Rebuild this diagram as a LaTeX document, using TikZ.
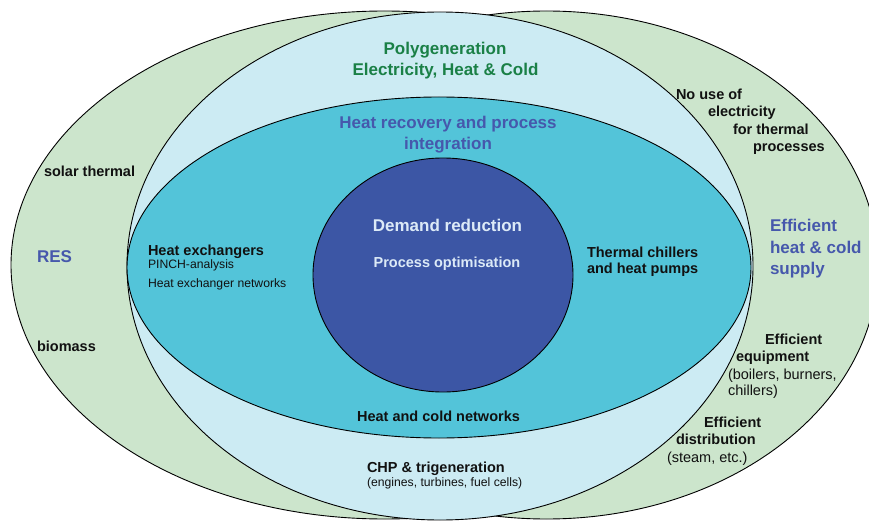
\documentclass[tikz,border=0pt]{standalone}
\usepackage{fontspec}
\setmainfont{Liberation Sans}
\definecolor{resgreen}{HTML}{CCE5CC}
\definecolor{polyblue}{HTML}{CCEBF3}
\definecolor{hrcyan}{HTML}{53C4D9}
\definecolor{drblue}{HTML}{3C56A5}
\definecolor{polytext}{HTML}{1A8046}
\definecolor{titleblue}{HTML}{4658AC}
\definecolor{drtext}{HTML}{DCEAF7}
\definecolor{labelblack}{HTML}{111111}
\begin{document}
\begin{tikzpicture}[x=1pt,y=-1pt,
  ring/.style={draw=black, line width=0.9pt},
  bigtxt/.style={font=\fontsize{17}{20}\selectfont\bfseries, inner sep=0pt, outer sep=0pt},
  lbl/.style={font=\fontsize{14.5}{17}\selectfont\bfseries, text=labelblack, inner sep=0pt, outer sep=0pt},
  reglbl/.style={font=\fontsize{14.5}{17}\selectfont, text=labelblack, inner sep=0pt, outer sep=0pt},
  smalllbl/.style={font=\fontsize{12.2}{14}\selectfont, text=labelblack, inner sep=0pt, outer sep=0pt}]
\useasboundingbox (0,0) rectangle (869,521);
\clip (0,0) rectangle (869,521);
% rings
\path[ring, fill=resgreen] (384.5,265) ellipse [x radius=373.5pt, y radius=254pt];
\path[ring, fill=resgreen] (546.5,265) ellipse [x radius=331.5pt, y radius=254pt];
\path[ring, fill=polyblue] (440,266) ellipse [x radius=313pt, y radius=254pt];
\path[ring, fill=hrcyan] (439,267.5) ellipse [x radius=312pt, y radius=170.5pt];
\path[ring, fill=drblue] (443,275) ellipse [x radius=130pt, y radius=117pt];
% polygeneration
\node[bigtxt, text=polytext, anchor=base] (poly1) at (445,55) {Polygeneration};
\node[bigtxt, text=polytext, anchor=base] (poly2) at (445.5,76) {Electricity, Heat \& Cold};
% heat recovery
\node[bigtxt, text=titleblue, anchor=base] (hr1) at (448,129) {Heat recovery and process};
\node[bigtxt, text=titleblue, anchor=base] (hr2) at (448,150) {integration};
% demand reduction
\node[bigtxt, text=drtext, anchor=base] (dr) at (447.5,232) {Demand reduction};
\node[lbl, text=drtext, anchor=base] (po) at (447,267) {Process optimisation};
% heat exchangers
\node[lbl, anchor=base west] (hx) at (148,255) {Heat exchangers};
\node[smalllbl, anchor=base west] (pinch) at (148,268) {PINCH-analysis};
\node[smalllbl, anchor=base west] (hxn) at (148,287) {Heat exchanger networks};
% thermal chillers
\node[lbl, anchor=base west] (tc1) at (587,257) {Thermal chillers};
\node[lbl, anchor=base west] (tc2) at (587,273) {and heat pumps};
% networks
\node[lbl, anchor=base] (hcn) at (438.5,421) {Heat and cold networks};
\node[lbl, anchor=base west] (chp) at (367,472) {CHP \& trigeneration};
\node[smalllbl, anchor=base west] (chpsub) at (367,486) {(engines, turbines, fuel cells)};
% RES
\node[lbl, anchor=base west] (solar) at (44,177) {solar thermal};
\node[bigtxt, text=titleblue, anchor=base west] (res) at (37,262) {RES};
\node[lbl, anchor=base west] (bio) at (37,351) {biomass};
% no use of electricity
\node[lbl, anchor=base west] (nouse1) at (676,100) {No use of};
\node[lbl, anchor=base west] (nouse2) at (708,117) {electricity};
\node[lbl, anchor=base west] (nouse3) at (733,135) {for thermal};
\node[lbl, anchor=base west] (nouse4) at (753,152) {processes};
% efficient supply
\node[bigtxt, text=titleblue, anchor=base west] (eff1) at (770,232) {Efficient};
\node[bigtxt, text=titleblue, anchor=base west] (eff2) at (770,254) {heat \& cold};
\node[bigtxt, text=titleblue, anchor=base west] (eff3) at (770,274) {supply};
% efficient equipment
\node[lbl, anchor=base west] (eq1) at (765,344) {Efficient};
\node[lbl, anchor=base west] (eq2) at (736,361) {equipment};
\node[reglbl, anchor=base west] (eq3) at (728,379) {(boilers, burners,};
\node[reglbl, anchor=base west] (eq4) at (728,395) {chillers)};
% efficient distribution
\node[lbl, anchor=base west] (dist1) at (704,427) {Efficient};
\node[lbl, anchor=base west] (dist2) at (676,444) {distribution};
\node[reglbl, anchor=base west] (dist3) at (667,462) {(steam, etc.)};
\end{tikzpicture}
\end{document}
